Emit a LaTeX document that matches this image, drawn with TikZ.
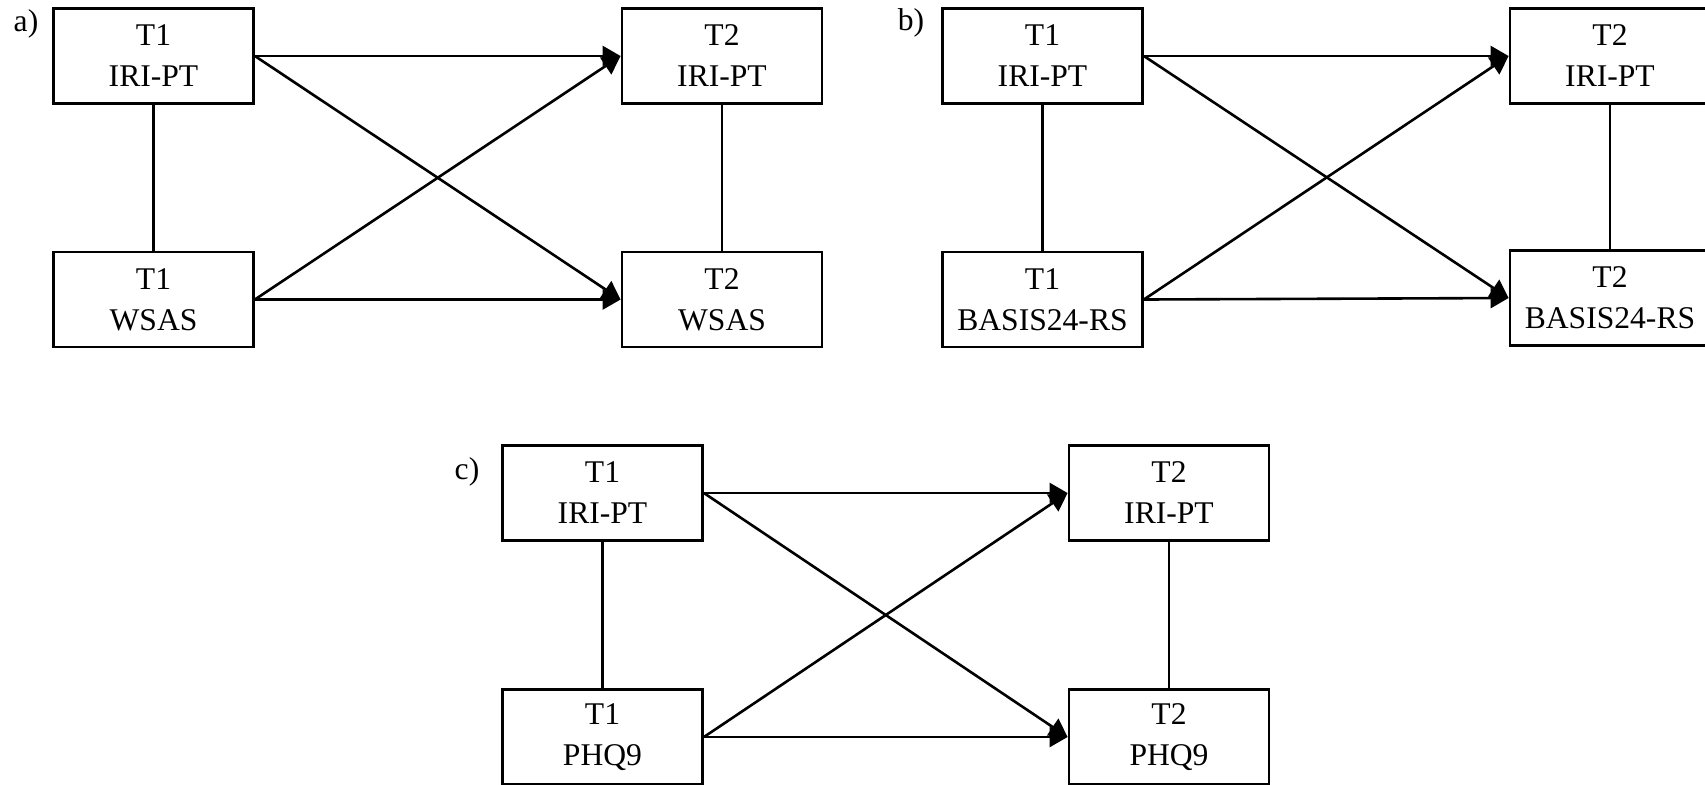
\documentclass[tikz,border=0pt]{standalone}
\usepackage{fontspec}
\setmainfont{Liberation Serif}
\usetikzlibrary{arrows.meta}
\tikzset{
  var/.style={draw, line width=1.4pt, rectangle, minimum width=100pt, minimum height=47.5pt,
    align=center, inner sep=0pt, font=\fontsize{15.8pt}{20.5pt}\selectfont},
  lbl/.style={font=\fontsize{15.8pt}{18pt}\selectfont, inner sep=0pt},
  path/.style={line width=1.3pt, -{Triangle[length=9pt,width=10pt]}},
  cor/.style={line width=1.2pt}
}
\begin{document}
\begin{tikzpicture}[x=0.5pt,y=-0.5pt]
\useasboundingbox (0,0) rectangle (1705,784);
% panel a
\node[lbl] (la) at (26,24) {a)};
\node[var] (a1) at (153.5,56) {T1\\IRI-PT};
\node[var] (a3) at (153.5,299.5) {T1\\WSAS};
\node[var] (a2) at (722,56) {T2\\IRI-PT};
\node[var] (a4) at (722,299.5) {T2\\WSAS};
\draw[cor] (a1.south) -- (a3.north);
\draw[cor] (a2.south) -- (a4.north);
\draw[path] (a1.east) -- (a2.west);
\draw[path] (a1.east) -- (a4.west);
\draw[path] (a3.east) -- (a2.west);
\draw[path] (a3.east) -- (a4.west);
% panel b
\node[lbl] (lb) at (911,23) {b)};
\node[var] (b1) at (1042.5,56) {T1\\IRI-PT};
\node[var] (b3) at (1042.5,299.5) {T1\\BASIS24-RS};
\node[var] (b2) at (1610,56) {T2\\IRI-PT};
\node[var] (b4) at (1610,298) {T2\\BASIS24-RS};
\draw[cor] (b1.south) -- (b3.north);
\draw[cor] (b2.south) -- (b4.north);
\draw[path] (b1.east) -- (b2.west);
\draw[path] (b1.east) -- (b4.west);
\draw[path] (b3.east) -- (b2.west);
\draw[path] (b3.east) -- (b4.west);
% panel c
\node[lbl] (lc) at (467,472) {c)};
\node[var] (c1) at (602.5,493) {T1\\IRI-PT};
\node[var] (c3) at (602.5,737) {T1\\PHQ9};
\node[var] (c2) at (1169,493) {T2\\IRI-PT};
\node[var] (c4) at (1169,737) {T2\\PHQ9};
\draw[cor] (c1.south) -- (c3.north);
\draw[cor] (c2.south) -- (c4.north);
\draw[path] (c1.east) -- (c2.west);
\draw[path] (c1.east) -- (c4.west);
\draw[path] (c3.east) -- (c2.west);
\draw[path] (c3.east) -- (c4.west);
\end{tikzpicture}
\end{document}
